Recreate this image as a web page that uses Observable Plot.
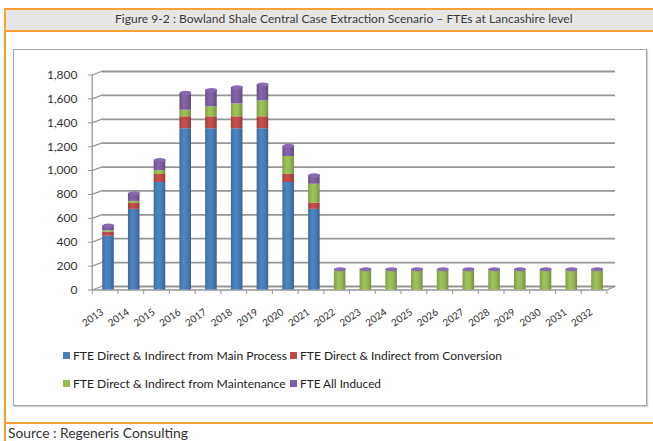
<!DOCTYPE html>
<html><head><meta charset="utf-8">
<script src="https://cdn.jsdelivr.net/npm/d3@7"></script>
<script src="https://cdn.jsdelivr.net/npm/@observablehq/plot@0.6"></script>
<style>
html,body{margin:0;padding:0;background:#fff;}
body{width:653px;height:441px;position:relative;overflow:hidden;font-family:Lato,"Open Sans",sans-serif;}
.abs{position:absolute;}
.txt{position:absolute;white-space:nowrap;line-height:1;}
</style></head><body>
<div id="chart" class="abs" style="left:0;top:0;"></div>
<script>
// ---------- data ----------
const years = [2013,2014,2015,2016,2017,2018,2019,2020,2021,2022,2023,2024,2025,2026,2027,2028,2029,2030,2031,2032];
const seriesNames = [
  "FTE Direct & Indirect from Main Process",
  "FTE Direct & Indirect from Conversion",
  "FTE Direct & Indirect from Maintenance",
  "FTE All Induced"
];
const mainProcess = [450,675,900,1350,1350,1350,1350,900,675,0,0,0,0,0,0,0,0,0,0,0];
const conversion  = [33,50,67,100,100,100,100,67,50,0,0,0,0,0,0,0,0,0,0,0];
const maintenance = [12,17,33,55,85,108,133,150,160,162,162,162,162,162,162,162,162,162,162,162];
const induced     = [45,68,88,145,140,138,138,90,75,12,12,12,12,12,12,12,12,12,12,12];
const yTicks = [0,200,400,600,800,1000,1200,1400,1600,1800];
const titleText = "Figure 9-2 : Bowland Shale Central Case Extraction Scenario \u2013 FTEs at Lancashire level";
const sourceText = "Source : Regeneris Consulting";

// ---------- styles ----------
const seriesColors = ["#4a7ebb","#be4b48","#98b954","#7d60a0"];
const gradIds = ["gBlue","gRed","gGreen","gPurple"];
const values = [mainProcess, conversion, maintenance, induced];

const rows = [];
seriesNames.forEach((s, si) => years.forEach((yr, i) => {
  if (values[si][i] > 0) rows.push({year: yr, series: s, si, value: values[si][i]});
}));
const totals = years.map((yr, i) => ({year: yr, total: values.reduce((a, v) => a + v[i], 0)}));

// 3D geometry constants (in scale units)
const HALF = 0.225;          // half bar width in years
const XFRONT = 2012.367;     // front-left corner
const XBACK = 2012.77;       // back wall left
const XBACKR = 2032.70;      // back wall right
const XFRONTR = 2032.367;    // front right corner
const DEPTH = 33.5;          // vertical depth offset in value units (~4px)
const tickPositions = d3.range(0, 21).map(k => XFRONT + k);

const ellipse = {draw(ctx, size) {
  const rx = Math.sqrt(size / Math.PI), ry = rx * 0.36, k = 0.5523;
  ctx.moveTo(rx, 0);
  ctx.bezierCurveTo(rx, ry*k, rx*k, ry, 0, ry);
  ctx.bezierCurveTo(-rx*k, ry, -rx, ry*k, -rx, 0);
  ctx.bezierCurveTo(-rx, -ry*k, -rx*k, -ry, 0, -ry);
  ctx.bezierCurveTo(rx*k, -ry, rx, -ry*k, rx, 0);
  ctx.closePath();
}};

const gridColor = "#969696";

const svg = Plot.plot({
  width: 653, height: 441,
  marginLeft: 92, marginRight: 38, marginTop: 70, marginBottom: 151,
  style: {background: "transparent", fontFamily: "Lato, 'Open Sans', sans-serif", fontSize: "12px", color: "#333"},
  x: {type: "linear", domain: [2013, 2032], range: [108, 597], label: null},
  y: {type: "linear", domain: [0, 1800], range: [289.5, 74.5], label: null},
  color: {type: "identity"},
  marks: [
    // back-wall gridlines
    Plot.ruleY(yTicks, {y: d => d, x1: XBACK, x2: XBACKR, dy: -3.5, stroke: gridColor, strokeWidth: 1.8}),
    // left wall diagonals
    Plot.link(yTicks, {x1: XFRONT, x2: XBACK, y1: d => d, y2: d => d + DEPTH, stroke: gridColor, strokeWidth: 1.3}),
    // front floor edge + right diagonal
    Plot.ruleY([0], {x1: XFRONT, x2: XFRONTR, stroke: gridColor, strokeWidth: 1.3}),
    Plot.link([0], {x1: XFRONTR, x2: XBACKR, y1: d => d, y2: d => d + DEPTH, stroke: gridColor, strokeWidth: 1.3}),
    // left front vertical edge
    Plot.ruleX([XFRONT], {x: d => d, y1: 0, y2: 1800, stroke: gridColor, strokeWidth: 1.3}),
    // bars
    Plot.rectY(rows, {
      x1: d => d.year - HALF, x2: d => d.year + HALF,
      y: "value", z: "series",
      fill: d => `url(#${gradIds[d.si]})`
    }),
    // top caps
    Plot.dot(totals, {x: "year", y: "total", r: 5.7, symbol: ellipse, fill: d3.color(seriesColors[3]).brighter(0.25).formatHex(), stroke: "none"}),
    // axes
    Plot.axisY(yTicks, {anchor: "left", label: null, tickSize: 4, tickPadding: 11, tickFormat: d3.format(","), fontSize: 12, stroke: gridColor, fill: "#333"}),
    Plot.axisX(tickPositions, {anchor: "bottom", label: null, tickSize: 4, tickFormat: () => "", stroke: gridColor}),
    Plot.text(years, {x: d => d, y: 0, text: d => String(d), rotate: -35, textAnchor: "end", dx: -6, dy: 21, fontSize: 10, fill: "#333"})
  ]
});

// gradients for cylinder shading
const defs = d3.select(svg).insert("defs", ":first-child");
seriesColors.forEach((c, i) => {
  const g = defs.append("linearGradient").attr("id", gradIds[i]).attr("x1", 0).attr("x2", 1).attr("y1", 0).attr("y2", 0);
  const base = d3.color(c);
  g.append("stop").attr("offset", "0%").attr("stop-color", base.darker(0.45).formatHex());
  g.append("stop").attr("offset", "35%").attr("stop-color", base.brighter(0.15).formatHex());
  g.append("stop").attr("offset", "65%").attr("stop-color", base.formatHex());
  g.append("stop").attr("offset", "100%").attr("stop-color", base.darker(0.7).formatHex());
});
document.getElementById("chart").appendChild(svg);

// ---------- frame / title / legend / source ----------
const orange = "#f7a233";
function box(style) { const d = document.createElement("div"); d.className = "abs"; Object.assign(d.style, style); document.body.appendChild(d); return d; }
function text(str, style, targetWidth) {
  const d = document.createElement("div"); d.className = "txt"; d.textContent = str; Object.assign(d.style, style);
  document.body.appendChild(d);
  if (targetWidth) { const fs = parseFloat(d.style.fontSize); d.style.fontSize = (fs * targetWidth / d.getBoundingClientRect().width).toFixed(2) + "px"; }
  return d;
}
box({left: "4px", top: "8px", width: "700px", height: "20px", background: "#e6e6e6", borderTop: `2px solid ${orange}`, borderBottom: `2px solid ${orange}`});
box({left: "4px", top: "8px", width: "2px", height: "440px", background: orange});
box({left: "4px", top: "422px", width: "700px", height: "2px", background: orange});
box({left: "13px", top: "49px", width: "632px", height: "355px", border: "1px solid #a6a6a6", boxShadow: "1px 1px 1px #d0d0d0"});

const t = text(titleText, {left: "115px", top: "13px", fontSize: "12px", color: "#3a3a3a"}, 458);

const legendPos = [[63, 356], [290, 356], [63, 384], [290, 384]];
const legendW = [214, 202, 213, 81];
seriesNames.forEach((s, i) => {
  const [x, y] = legendPos[i];
  box({left: x + "px", top: (y - 4) + "px", width: "7px", height: "7px", background: seriesColors[i]});
  const el = text(s, {left: (x + 10) + "px", top: "0px", fontSize: "12px", color: "#222"}, legendW[i]);
  el.style.top = (y - el.getBoundingClientRect().height / 2) + "px";
});
const src = text(sourceText, {left: "8px", top: "0px", fontSize: "14px", color: "#333"}, 180);
src.style.top = (440 - src.getBoundingClientRect().height) + "px";
</script>
</body></html>
